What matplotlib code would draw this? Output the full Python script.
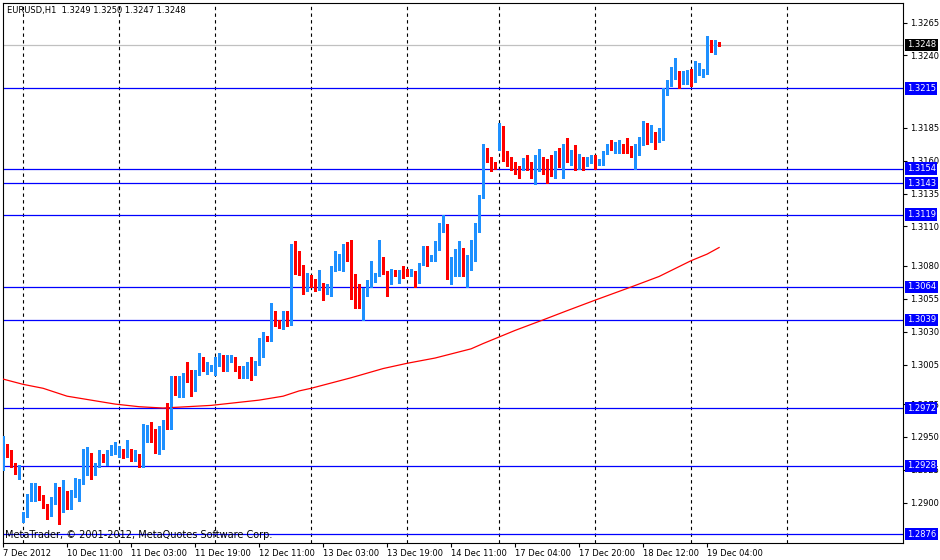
import numpy as np
import matplotlib.pyplot as plt
import matplotlib.transforms as mtransforms

# EURUSD H1 bars, 7 Dec 19:00 .. 19 Dec 07:00
opens = [
    1.2926, 1.2941, 1.2938, 1.2929, 1.2924, 1.2888, 1.2890, 1.2905, 1.2908, 1.2912,
    1.2905, 1.2897, 1.2895, 1.2902, 1.2906, 1.2894, 1.2906, 1.2895, 1.2908, 1.2907,
    1.2915, 1.2935, 1.2937, 1.2923, 1.2928, 1.2936, 1.2931, 1.2937, 1.2939, 1.2938,
    1.2940, 1.2936, 1.2937, 1.2933, 1.2935, 1.2931, 1.2947, 1.2956, 1.2948, 1.2940,
    1.2944, 1.2963, 1.2956, 1.2991, 1.2983, 1.2992, 1.2998, 1.2996, 1.2989, 1.2998,
    1.3007, 1.3001, 1.3001, 1.3004, 1.3006, 1.3009, 1.3000, 1.3009, 1.3008, 1.3001,
    1.2995, 1.2995, 1.3004, 1.3001, 1.3007, 1.3011, 1.3026, 1.3025, 1.3045, 1.3037,
    1.3033, 1.3038, 1.3036, 1.3085, 1.3081, 1.3080, 1.3062, 1.3072, 1.3069, 1.3064,
    1.3066, 1.3060, 1.3065, 1.3077, 1.3081, 1.3082, 1.3097, 1.3084, 1.3063, 1.3063,
    1.3055, 1.3061, 1.3068, 1.3070, 1.3073, 1.3085, 1.3075, 1.3067, 1.3076, 1.3074,
    1.3077, 1.3077, 1.3073, 1.3075, 1.3068, 1.3082, 1.3093, 1.3087, 1.3084, 1.3093,
    1.3106, 1.3110, 1.3075, 1.3082, 1.3084, 1.3087, 1.3080, 1.3078, 1.3085, 1.3107,
    1.3133, 1.3167, 1.3163, 1.3158, 1.3168, 1.3183, 1.3163, 1.3161, 1.3157, 1.3155,
    1.3154, 1.3163, 1.3158, 1.3147, 1.3154, 1.3158, 1.3155, 1.3155, 1.3149, 1.3164,
    1.3157, 1.3170, 1.3160, 1.3167, 1.3154, 1.3160, 1.3159, 1.3159, 1.3161, 1.3157,
    1.3158, 1.3165, 1.3172, 1.3168, 1.3171, 1.3172, 1.3171, 1.3170, 1.3165, 1.3170,
    1.3173, 1.3181, 1.3176, 1.3180, 1.3175, 1.3177, 1.3210, 1.3222, 1.3226, 1.3227,
    1.3219, 1.3219, 1.3227, 1.3221, 1.3226, 1.3225, 1.3227, 1.3248, 1.3248, 1.3249,
]
highs = [
    1.2951, 1.2945, 1.2940, 1.2930, 1.2929, 1.2893, 1.2907, 1.2915, 1.2915, 1.2913,
    1.2906, 1.2899, 1.2904, 1.2915, 1.2912, 1.2917, 1.2909, 1.2910, 1.2919, 1.2918,
    1.2941, 1.2942, 1.2938, 1.2930, 1.2940, 1.2937, 1.2940, 1.2944, 1.2946, 1.2943,
    1.2941, 1.2948, 1.2941, 1.2940, 1.2937, 1.2960, 1.2959, 1.2961, 1.2956, 1.2958,
    1.2963, 1.2976, 1.2996, 1.2996, 1.2996, 1.2999, 1.3007, 1.3001, 1.3001, 1.3014,
    1.3011, 1.3007, 1.3005, 1.3011, 1.3014, 1.3012, 1.3012, 1.3012, 1.3011, 1.3004,
    1.3004, 1.3007, 1.3011, 1.3008, 1.3025, 1.3030, 1.3027, 1.3052, 1.3046, 1.3039,
    1.3046, 1.3046, 1.3097, 1.3099, 1.3091, 1.3081, 1.3075, 1.3073, 1.3070, 1.3077,
    1.3067, 1.3066, 1.3080, 1.3091, 1.3089, 1.3097, 1.3098, 1.3100, 1.3074, 1.3066,
    1.3063, 1.3069, 1.3084, 1.3075, 1.3100, 1.3087, 1.3076, 1.3078, 1.3077, 1.3077,
    1.3080, 1.3078, 1.3078, 1.3076, 1.3082, 1.3095, 1.3095, 1.3088, 1.3099, 1.3113,
    1.3119, 1.3112, 1.3087, 1.3093, 1.3099, 1.3094, 1.3088, 1.3100, 1.3113, 1.3134,
    1.3173, 1.3170, 1.3163, 1.3159, 1.3189, 1.3186, 1.3167, 1.3163, 1.3159, 1.3156,
    1.3162, 1.3164, 1.3159, 1.3164, 1.3169, 1.3163, 1.3161, 1.3164, 1.3167, 1.3170,
    1.3173, 1.3177, 1.3168, 1.3172, 1.3165, 1.3163, 1.3163, 1.3164, 1.3164, 1.3161,
    1.3167, 1.3173, 1.3176, 1.3174, 1.3176, 1.3173, 1.3177, 1.3171, 1.3173, 1.3178,
    1.3190, 1.3189, 1.3187, 1.3182, 1.3185, 1.3215, 1.3221, 1.3231, 1.3238, 1.3228,
    1.3228, 1.3229, 1.3230, 1.3236, 1.3234, 1.3230, 1.3255, 1.3252, 1.3252, 1.3250,
]
lows = [
    1.2925, 1.2935, 1.2927, 1.2922, 1.2918, 1.2885, 1.2889, 1.2901, 1.2901, 1.2902,
    1.2896, 1.2888, 1.2890, 1.2899, 1.2884, 1.2893, 1.2895, 1.2895, 1.2904, 1.2901,
    1.2914, 1.2921, 1.2918, 1.2921, 1.2927, 1.2931, 1.2929, 1.2936, 1.2937, 1.2935,
    1.2934, 1.2935, 1.2932, 1.2932, 1.2927, 1.2927, 1.2946, 1.2946, 1.2938, 1.2937,
    1.2941, 1.2956, 1.2956, 1.2982, 1.2980, 1.2980, 1.2992, 1.2981, 1.2985, 1.2997,
    1.3000, 1.2998, 1.3000, 1.2997, 1.3004, 1.3000, 1.3000, 1.3007, 1.3000, 1.2995,
    1.2995, 1.2995, 1.2993, 1.2997, 1.3005, 1.3011, 1.3023, 1.3023, 1.3034, 1.3033,
    1.3032, 1.3034, 1.3035, 1.3074, 1.3073, 1.3059, 1.3061, 1.3064, 1.3061, 1.3062,
    1.3054, 1.3059, 1.3057, 1.3076, 1.3077, 1.3076, 1.3084, 1.3055, 1.3048, 1.3048,
    1.3039, 1.3057, 1.3064, 1.3068, 1.3072, 1.3074, 1.3057, 1.3066, 1.3072, 1.3067,
    1.3071, 1.3072, 1.3072, 1.3064, 1.3067, 1.3081, 1.3080, 1.3084, 1.3084, 1.3092,
    1.3106, 1.3070, 1.3066, 1.3072, 1.3072, 1.3072, 1.3064, 1.3077, 1.3084, 1.3106,
    1.3132, 1.3159, 1.3152, 1.3154, 1.3168, 1.3160, 1.3156, 1.3153, 1.3150, 1.3147,
    1.3153, 1.3153, 1.3147, 1.3142, 1.3152, 1.3150, 1.3143, 1.3148, 1.3147, 1.3155,
    1.3147, 1.3159, 1.3157, 1.3153, 1.3154, 1.3153, 1.3156, 1.3158, 1.3154, 1.3157,
    1.3157, 1.3165, 1.3168, 1.3166, 1.3166, 1.3166, 1.3166, 1.3163, 1.3154, 1.3164,
    1.3172, 1.3173, 1.3174, 1.3169, 1.3174, 1.3176, 1.3210, 1.3217, 1.3222, 1.3215,
    1.3218, 1.3218, 1.3217, 1.3220, 1.3225, 1.3224, 1.3226, 1.3243, 1.3241, 1.3247,
]
closes = [
    1.2940, 1.2937, 1.2928, 1.2925, 1.2928, 1.2891, 1.2905, 1.2910, 1.2911, 1.2905,
    1.2897, 1.2894, 1.2902, 1.2904, 1.2893, 1.2907, 1.2896, 1.2907, 1.2910, 1.2915,
    1.2935, 1.2937, 1.2924, 1.2928, 1.2935, 1.2931, 1.2937, 1.2941, 1.2939, 1.2938,
    1.2935, 1.2938, 1.2934, 1.2937, 1.2932, 1.2948, 1.2955, 1.2950, 1.2940, 1.2944,
    1.2961, 1.2957, 1.2992, 1.2982, 1.2992, 1.2998, 1.2995, 1.2990, 1.2998, 1.3007,
    1.3003, 1.3001, 1.3004, 1.3007, 1.3011, 1.3001, 1.3008, 1.3009, 1.3001, 1.2996,
    1.2998, 1.3004, 1.3002, 1.3007, 1.3011, 1.3027, 1.3024, 1.3043, 1.3039, 1.3034,
    1.3040, 1.3035, 1.3087, 1.3080, 1.3079, 1.3062, 1.3072, 1.3068, 1.3064, 1.3068,
    1.3061, 1.3063, 1.3078, 1.3083, 1.3081, 1.3096, 1.3084, 1.3061, 1.3060, 1.3055,
    1.3061, 1.3068, 1.3070, 1.3072, 1.3087, 1.3075, 1.3068, 1.3077, 1.3073, 1.3076,
    1.3075, 1.3074, 1.3077, 1.3067, 1.3081, 1.3094, 1.3087, 1.3087, 1.3095, 1.3109,
    1.3110, 1.3076, 1.3084, 1.3084, 1.3087, 1.3078, 1.3080, 1.3085, 1.3107, 1.3132,
    1.3167, 1.3160, 1.3156, 1.3155, 1.3182, 1.3164, 1.3159, 1.3156, 1.3154, 1.3154,
    1.3161, 1.3158, 1.3148, 1.3157, 1.3158, 1.3156, 1.3154, 1.3150, 1.3164, 1.3156,
    1.3172, 1.3160, 1.3167, 1.3154, 1.3161, 1.3157, 1.3162, 1.3163, 1.3159, 1.3160,
    1.3164, 1.3173, 1.3169, 1.3170, 1.3173, 1.3169, 1.3167, 1.3164, 1.3173, 1.3173,
    1.3183, 1.3176, 1.3179, 1.3173, 1.3176, 1.3212, 1.3221, 1.3228, 1.3228, 1.3218,
    1.3221, 1.3227, 1.3223, 1.3228, 1.3227, 1.3228, 1.3249, 1.3246, 1.3249, 1.3248,
]

# moving average line, sampled at bar indices
ma_idx = [0, 5, 10, 16, 22, 28, 34, 40, 46, 52, 58, 64, 70, 74, 77, 87, 95, 101,
          108, 117, 120, 124, 128, 135, 141, 148, 157, 164, 172, 176, 179]
ma_vals = [1.2994, 1.2990, 1.2987, 1.2981, 1.2978, 1.2975, 1.2973, 1.2972, 1.2973,
           1.2974, 1.2976, 1.2978, 1.2981, 1.2985, 1.2987, 1.2995, 1.3002, 1.3006,
           1.3010, 1.3017, 1.3021, 1.3026, 1.3031, 1.3039, 1.3046, 1.3054, 1.3064,
           1.3072, 1.3084, 1.3089, 1.3094]

levels = [1.3215, 1.3154, 1.3143, 1.3119, 1.3064, 1.3039, 1.2972, 1.2928, 1.2876]
last_price = 1.3248

day_starts = [5, 29, 53, 77, 101, 124, 148, 172, 196]
time_idx = [0, 16, 32, 48, 64, 80, 96, 112, 128, 144, 160, 176]
time_labels = ['7 Dec 2012', '10 Dec 11:00', '11 Dec 03:00', '11 Dec 19:00',
               '12 Dec 11:00', '13 Dec 03:00', '13 Dec 19:00', '14 Dec 11:00',
               '17 Dec 04:00', '17 Dec 20:00', '18 Dec 12:00', '19 Dec 04:00']
price_ticks = [1.3265, 1.3240, 1.3185, 1.3160, 1.3135, 1.3110, 1.3080, 1.3055,
               1.3030, 1.3005, 1.2975, 1.2950, 1.2925, 1.2900]

plt.rcParams['font.family'] = ['DejaVu Sans']

fig = plt.figure(figsize=(9.4, 5.6), dpi=100)
ax = fig.add_axes([2.7 / 940, 17 / 560, 900 / 940, 540.3 / 560])

o = np.array(opens)
h = np.array(highs)
l = np.array(lows)
c = np.array(closes)
x = np.arange(len(o))
up = c >= o
colors = np.where(up, '#1E90FF', '#FF0000')

# period separators
for d in day_starts:
    ax.axvline(d, color='black', linestyle=(0, (3, 3)), linewidth=0.8, zorder=1)

# support / resistance lines
for lv in levels:
    ax.axhline(lv, color='#0000FF', linewidth=0.9, zorder=2)
ax.axhline(last_price, color='#C0C0C0', linewidth=0.9, zorder=2)

# candles
ax.vlines(x, l, h, colors=colors, linewidth=0.8, zorder=3, antialiased=False)
body = np.maximum(np.abs(c - o), 0.00008)
ax.bar(x, body, bottom=np.minimum(o, c), width=0.6, color=colors,
       linewidth=0, zorder=4, antialiased=False)

# moving average
ax.plot(ma_idx, ma_vals, color='#FF0000', linewidth=0.9, zorder=3)

ax.set_xlim(-0.1, 224.9)
ax.set_ylim(1.28694, 1.32801)

ax.set_xticks(time_idx)
ax.set_xticklabels(time_labels)
for lab in ax.get_xticklabels():
    lab.set_ha('left')
ax.set_yticks(price_ticks)
ax.set_yticklabels(['%.4f' % t for t in price_ticks])

ax.tick_params(axis='x', direction='out', length=3, width=0.8, pad=1.5,
               labelsize=6, colors='black')
ax.tick_params(axis='y', direction='out', length=3, width=0.8, pad=2,
               labelsize=6, left=False, labelleft=False, right=True,
               labelright=True)
for s in ax.spines.values():
    s.set_color('black')
    s.set_linewidth(0.8)

# price labels on the right axis
trans = mtransforms.blended_transform_factory(ax.transAxes, ax.transData)
for lv in levels:
    ax.text(1.0045, lv, '%.4f' % lv, transform=trans, fontsize=6, color='white',
            ha='left', va='center', clip_on=False, zorder=10,
            bbox=dict(boxstyle='square,pad=0.2', fc='#0000FF', ec='none'))
ax.text(1.0045, last_price, '%.4f' % last_price, transform=trans, fontsize=6,
        color='white', ha='left', va='center', clip_on=False, zorder=10,
        bbox=dict(boxstyle='square,pad=0.2', fc='black', ec='none'))

ax.text(0.005, 0.986, 'EURUSD,H1  %.4f %.4f %.4f %.4f' % (opens[-1], highs[-1], lows[-1], closes[-1]),
        transform=ax.transAxes, fontsize=6, ha='left', va='center', color='black')
ax.text(0.003, 0.015, 'MetaTrader, \u00a9 2001-2012, MetaQuotes Software Corp.',
        transform=ax.transAxes, fontsize=7, ha='left', va='center', color='black',
        zorder=5)

fig.savefig('out.png', dpi=100)
